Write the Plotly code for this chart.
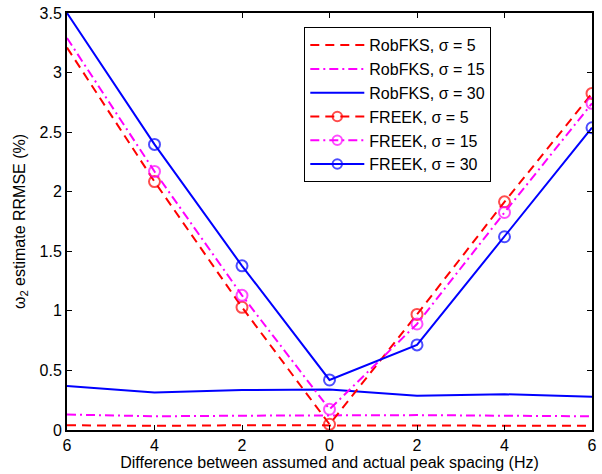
import plotly.graph_objects as go

x_vals = [-6, -4, -2, 0, 2, 4, 6]
x_tick_text = ["6", "4", "2", "0", "2", "4", "6"]
y_tick_vals = [0, 0.5, 1, 1.5, 2, 2.5, 3, 3.5]
y_tick_text = ["0", "0.5", "1", "1.5", "2", "2.5", "3", "3.5"]

robfks_5 = [0.04, 0.035, 0.04, 0.04, 0.04, 0.04, 0.035]
robfks_15 = [0.13, 0.115, 0.12, 0.125, 0.125, 0.12, 0.115]
robfks_30 = [0.37, 0.315, 0.335, 0.34, 0.288, 0.30, 0.28]
freek_5 = [3.21, 2.085, 1.03, 0.048, 0.97, 1.915, 2.825]
freek_15 = [3.29, 2.17, 1.13, 0.174, 0.89, 1.826, 2.742]
freek_30 = [3.50, 2.397, 1.378, 0.42, 0.714, 1.622, 2.537]

RED = "#ff0000"
MAG = "#ff00ff"
BLUE = "#0000ff"
DASH = "9px,6px"
DASHDOT = "9px,4px,2px,4px"
marker_sizes = [0] + [11] * (len(x_vals) - 1)

fig = go.Figure()
fig.add_trace(go.Scatter(x=x_vals, y=robfks_5, mode="lines", name="RobFKS, σ = 5",
                         line=dict(color=RED, width=2, dash=DASH)))
fig.add_trace(go.Scatter(x=x_vals, y=robfks_15, mode="lines", name="RobFKS, σ = 15",
                         line=dict(color=MAG, width=2, dash=DASHDOT)))
fig.add_trace(go.Scatter(x=x_vals, y=robfks_30, mode="lines", name="RobFKS, σ = 30",
                         line=dict(color=BLUE, width=2, dash="solid")))
fig.add_trace(go.Scatter(x=x_vals, y=freek_5, mode="lines+markers", name="FREEK, σ = 5",
                         line=dict(color=RED, width=2, dash=DASH),
                         marker=dict(symbol="circle-open", size=marker_sizes, color=RED,
                                     line=dict(width=2, color=RED))))
fig.add_trace(go.Scatter(x=x_vals, y=freek_15, mode="lines+markers", name="FREEK, σ = 15",
                         line=dict(color=MAG, width=2, dash=DASHDOT),
                         marker=dict(symbol="circle-open", size=marker_sizes, color=MAG,
                                     line=dict(width=2, color=MAG))))
fig.add_trace(go.Scatter(x=x_vals, y=freek_30, mode="lines+markers", name="FREEK, σ = 30",
                         line=dict(color=BLUE, width=2, dash="solid"),
                         marker=dict(symbol="circle-open", size=marker_sizes, color=BLUE,
                                     line=dict(width=2, color=BLUE))))

FONT = "Arial, Liberation Sans, Helvetica, sans-serif"
fig.update_layout(
    width=602, height=474,
    margin=dict(l=67, r=5, t=13, b=44),
    paper_bgcolor="white", plot_bgcolor="white",
    font=dict(family=FONT, size=16, color="black"),
    showlegend=True,
    legend=dict(x=0.452, y=0.966, xanchor="left", yanchor="top",
                bordercolor="black", borderwidth=1, bgcolor="white",
                font=dict(family=FONT, size=16, color="black"),
                tracegroupgap=0, itemwidth=54),
    xaxis=dict(range=[-6, 6], tickvals=x_vals, ticktext=x_tick_text,
               ticks="inside", ticklen=5, tickwidth=1, tickcolor="black",
               showline=True, linecolor="black", linewidth=2, mirror="ticks",
               showgrid=False, zeroline=False,
               title=dict(text="Difference between assumed and actual peak spacing (Hz)",
                          font=dict(size=16), standoff=2)),
    yaxis=dict(range=[0, 3.5], tickvals=y_tick_vals, ticktext=y_tick_text,
               ticks="inside", ticklen=5, tickwidth=1, tickcolor="black",
               showline=True, linecolor="black", linewidth=2, mirror="ticks",
               showgrid=False, zeroline=False,
               title=dict(text="ω<sub>2</sub> estimate RRMSE (%)",
                          font=dict(size=16), standoff=10)),
)

fig.write_html("out.html", config={"displayModeBar": False},
               post_script="document.body.style.margin='0';document.body.style.padding='0';")
